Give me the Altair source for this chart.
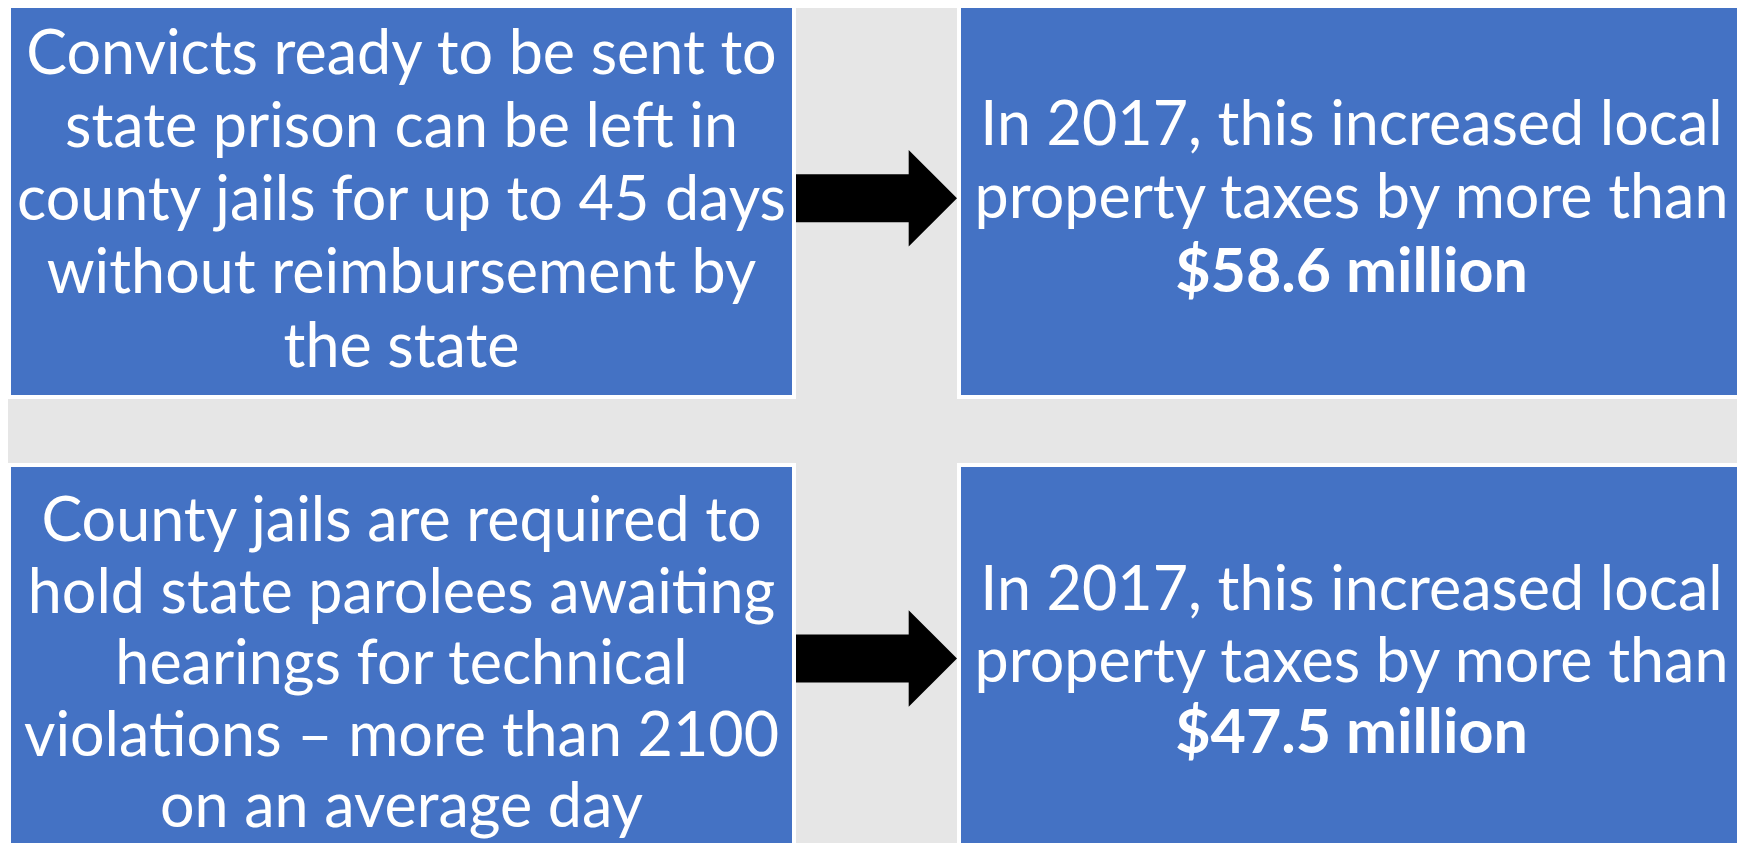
import altair as alt
import pandas as pd

# ---------------- content ----------------
cause_lines = [
    ["Convicts ready to be sent to", "state prison can be left in",
     "county jails for up to 45 days", "without reimbursement by", "the state"],
    ["County jails are required to", "hold state parolees awaiting",
     "hearings for technical", "violations \u2013 more than 2100", "on an average day"],
]
effect_lines = [
    ["In 2017, this increased local", "property taxes by more than"],
    ["In 2017, this increased local", "property taxes by more than"],
]
effect_amounts = ["$58.6 million", "$47.5 million"]

# ---------------- layout (page pixel space) ----------------
PAGE_W, PAGE_H, MARGIN = 1745, 851, 8
col_x = [(11, 792), (961, 1742)]          # blue box left/right
row_y = [(7, 395), (467, 900)]            # blue box top/bottom
BORDER = 4
first_baseline = {(0, 0): 73.5, (0, 1): 145, (1, 0): 541, (1, 1): 610}
line_step = {0: 73.3, 1: 71.6}
arrow_x0, arrow_xh, arrow_x1 = 796, 908.7, 957
arrow_cy = [198.3, 658.5]
shaft_half, head_half = 24, 48.3

BLUE = "#4472C4"
BG = "#E6E6E6"
FONT = "Lato"
FS = 61

# boxes
box_rows = []
for r, (y0, y1) in enumerate(row_y):
    for c, (x0, x1) in enumerate(col_x):
        box_rows.append(dict(x=x0 - BORDER, x2=x1 + BORDER, y=y0 - BORDER, y2=y1 + BORDER, kind="border"))
        box_rows.append(dict(x=x0, x2=x1, y=y0, y2=y1, kind="fill"))
boxes = pd.DataFrame(box_rows)

# text lines
txt_rows = []
for r in range(2):
    groups = [(0, cause_lines[r], ["normal"] * len(cause_lines[r])),
              (1, effect_lines[r] + [effect_amounts[r]], ["normal"] * len(effect_lines[r]) + ["bold"])]
    for c, lines, weights in groups:
        cx = (col_x[c][0] + col_x[c][1]) / 2
        for i, (t, w) in enumerate(zip(lines, weights)):
            txt_rows.append(dict(text=t, x=cx, y=first_baseline[(r, c)] + i * line_step[r], weight=w))
texts = pd.DataFrame(txt_rows)

# arrows: shaft rectangles + triangular heads
shafts = pd.DataFrame([dict(x=arrow_x0, x2=arrow_xh + 0.5, y=cy - shaft_half, y2=cy + shaft_half)
                       for cy in arrow_cy])
heads = pd.DataFrame([dict(x=(arrow_xh + arrow_x1) / 2, y=cy) for cy in arrow_cy])
head_side = 2 * head_half
head_w_ratio = (arrow_x1 - arrow_xh) / head_side   # fraction of the unit square width
hw = head_w_ratio  # half-width in unit coords (square spans -1..1 => width 2)
HEAD_PATH = f"M{-hw},-1 L{hw},0 L{-hw},1 Z"

W = PAGE_W - 2 * MARGIN
H = PAGE_H - 2 * MARGIN
xs = alt.Scale(domain=[MARGIN, MARGIN + W], nice=False, zero=False)
ys = alt.Scale(domain=[MARGIN + H, MARGIN], nice=False, zero=False)
X = lambda f: alt.X(f, type="quantitative", scale=xs, axis=None)
Y = lambda f: alt.Y(f, type="quantitative", scale=ys, axis=None)

border = alt.Chart(boxes).transform_filter("datum.kind == 'border'").mark_rect(
    color="white", clip=True).encode(x=X("x"), x2="x2", y=Y("y"), y2="y2")
fill = alt.Chart(boxes).transform_filter("datum.kind == 'fill'").mark_rect(
    color=BLUE, clip=True).encode(x=X("x"), x2="x2", y=Y("y"), y2="y2")

shaft_layer = alt.Chart(shafts).mark_rect(color="black").encode(
    x=X("x"), x2="x2", y=Y("y"), y2="y2")
head_layer = alt.Chart(heads).mark_point(
    shape=HEAD_PATH, filled=True, color="black", opacity=1, strokeWidth=0,
    size=head_side ** 2).encode(x=X("x"), y=Y("y"))

txt_normal = alt.Chart(texts).transform_filter("datum.weight == 'normal'").mark_text(
    font=FONT, fontSize=FS, color="white", align="center", baseline="alphabetic"
).encode(x=X("x"), y=Y("y"), text="text:N")
txt_bold = alt.Chart(texts).transform_filter("datum.weight == 'bold'").mark_text(
    font=FONT, fontSize=FS, fontWeight="bold", color="white", align="center", baseline="alphabetic"
).encode(x=X("x"), y=Y("y"), text="text:N")

chart = alt.layer(border, fill, shaft_layer, head_layer, txt_normal, txt_bold).properties(
    width=W, height=H,
    autosize=alt.AutoSizeParams(type="fit", contains="padding"),
    padding=0, background=BG,
).configure_view(stroke=None)

chart.save("out.html", embed_options={"renderer": "svg", "actions": False})
